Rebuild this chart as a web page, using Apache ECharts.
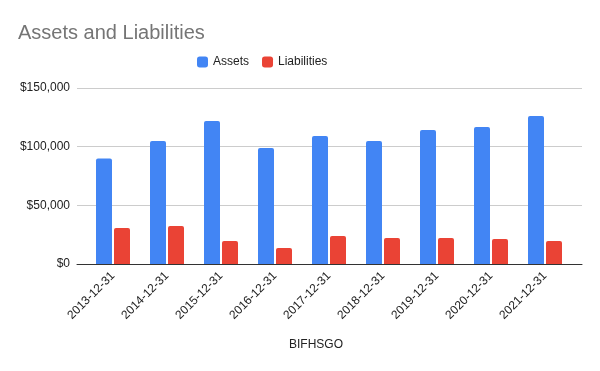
<!DOCTYPE html>
<html><head><meta charset="utf-8">
<script src="https://cdn.jsdelivr.net/npm/echarts@6/dist/echarts.min.js"></script>
<style>html,body{margin:0;padding:0;background:#fff}#c{width:600px;height:371px}</style>
</head><body><div id="c"></div>
<script>
const categories = ['2013-12-31','2014-12-31','2015-12-31','2016-12-31','2017-12-31','2018-12-31','2019-12-31','2020-12-31','2021-12-31'];
const assets = [90000, 104800, 121900, 98900, 109100, 104800, 114200, 116800, 126100];
const liabilities = [30700, 32400, 19600, 13600, 23900, 22200, 22200, 21300, 19600];
const yTicks = [0, 50000, 100000, 150000];

const font = 'Arial, "Liberation Sans", sans-serif';
const chart = echarts.init(document.getElementById('c'), null, {renderer:'canvas'});
chart.setOption({
  animation: false,
  textStyle: {fontFamily: font},
  title: [
    {text: 'Assets and Liabilities', left: 13, top: 18, textStyle: {fontFamily: font, fontSize: 20, fontWeight: 'normal', color: '#757575'}}
  ],
  graphic: [
    {type: 'text', x: 316, y: 345, style: {text: 'BIFHSGO', fill: '#222', font: '12px ' + font, textAlign: 'center', textVerticalAlign: 'middle'}}
  ],
  legend: {
    left: 192, top: 51, itemWidth: 11, itemHeight: 11, itemGap: 13,
    icon: 'roundRect',
    textStyle: {fontFamily: font, fontSize: 12, color: '#222'},
    data: ['Assets', 'Liabilities']
  },
  grid: [
    {left: 77, right: 18, top: 88, bottom: 107},
    {left: 86, right: 28, top: 88, bottom: 107}
  ],
  xAxis: [
    {gridIndex: 0, type: 'value', min: 0, max: 1, show: true, axisLabel: {show: false}, axisTick: {show: false}, splitLine: {show: false},
     axisLine: {show: true, onZero: false, lineStyle: {color: '#333', width: 1}}},
    {gridIndex: 1, type: 'category', data: categories,
     axisLine: {show: false}, axisTick: {show: false},
     axisLabel: {rotate: 45, fontSize: 12, color: '#222', margin: 10, interval: 0, fontFamily: font}}
  ],
  yAxis: [
    {gridIndex: 0, type: 'value', min: 0, max: 150000, interval: 50000,
     axisLine: {show: false}, axisTick: {show: false},
     axisLabel: {fontSize: 12, color: '#222', margin: 7, fontFamily: font,
       formatter: v => yTicks.includes(v) ? '$' + v.toLocaleString('en-US') : ''},
     splitLine: {lineStyle: {color: '#cccccc', width: 1}}},
    {gridIndex: 1, type: 'value', min: 0, max: 150000, interval: 50000, show: false, splitLine: {show: false}}
  ],
  series: [
    {name: 'Assets', type: 'bar', xAxisIndex: 1, yAxisIndex: 1, data: assets, barWidth: 16, barGap: '12.5%',
     itemStyle: {color: '#4285F4', borderRadius: [2, 2, 0, 0]}},
    {name: 'Liabilities', type: 'bar', xAxisIndex: 1, yAxisIndex: 1, data: liabilities, barWidth: 16, barGap: '12.5%',
     itemStyle: {color: '#EA4335', borderRadius: [2, 2, 0, 0]}}
  ]
});
</script></body></html>
